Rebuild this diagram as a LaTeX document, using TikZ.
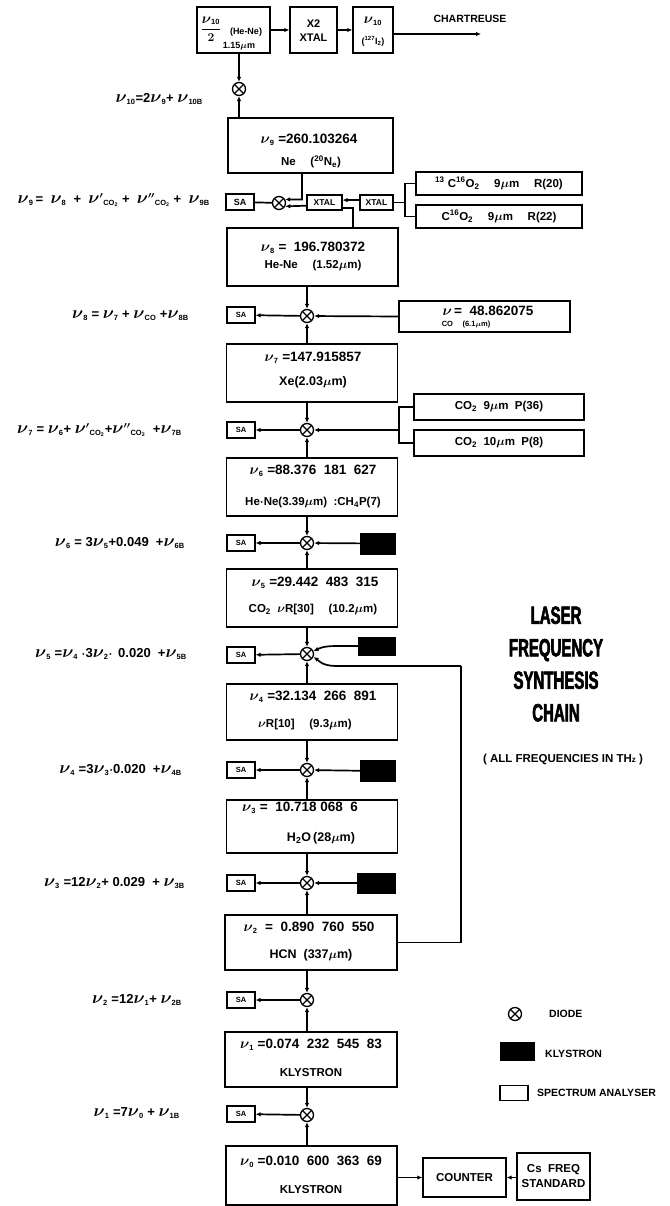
\documentclass[tikz,border=0pt]{standalone}
\usepackage{amsmath}
\usepackage{fontspec}
\setmainfont{Liberation Sans}
\newfontfamily\titlefont{Liberation Sans}[FakeStretch=0.6, BoldFeatures={FakeBold=2.2}]
\usetikzlibrary{arrows.meta}
\newcommand\nus{15}
\newcommand\bnu{\hbox{\fontsize{\nus}{\nus}\selectfont$\boldsymbol{\nu}$}}
\newcommand\nuu[1]{\ensuremath{\bnu_{\hbox{\fontsize{7.5}{7.5}\selectfont\bfseries #1}}}}
\newcommand\nup[2]{\ensuremath{\bnu#1{}_{\hbox{\fontsize{7.5}{7.5}\selectfont\bfseries #2}}}}
\tikzset{
  fs/.style={font=\bfseries\boldmath\fontsize{#1}{#1}\selectfont},
  conn/.style={line width=1.7pt},
  box/.style={draw, line width=1.4pt, inner sep=0pt},
  mbox/.style={box, minimum width=171pt},
  sabox/.style={box, line width=1.2pt, minimum width=28pt, minimum height=16pt, fs=7.5},
  xtal/.style={box, line width=1.2pt, minimum height=15pt, fs=8.5},
  klys/.style={fill=black, draw=black, inner sep=0pt},
  mixer/.style={circle, draw, line width=1.3pt, minimum size=13pt, inner sep=0pt, fill=white,
    path picture={\draw[line width=1.3pt] (path picture bounding box.south west) -- (path picture bounding box.north east)
      (path picture bounding box.north west) -- (path picture bounding box.south east);}},
  eqn/.style={font=\bfseries\boldmath\fontsize{13}{13}\selectfont\def\nus{16.5}, anchor=east, inner sep=0pt},
  tx/.style={inner sep=0pt, fs=#1},
  tn/.style={inner sep=0pt, font=\bfseries\boldmath\fontsize{13.5}{13.5}\selectfont\def\nus{15.5}},
}
\begin{document}
\begin{tikzpicture}[x=1pt,y=-1pt, >={Latex[length=5pt,width=4.5pt]}]
\useasboundingbox (0,0) rectangle (669,1206);

% ---------- top row ----------
\node[box, minimum width=73pt, minimum height=46pt] (bA) at (233.5,30) {};
\node[box, minimum width=47pt, minimum height=46pt] (bX) at (313.5,30) {};
\node[box, minimum width=40pt, minimum height=46pt] (bI) at (373,30) {};
\node[tx=13] (tA1) at (211,29) {$\displaystyle\frac{\nuu{10}}{2}$};
\node[tx=9] (tA2) at (246,32) {(He-Ne)};
\node[tx=9] (tA3) at (239,46) {1.15$\mu$m};
\node[tx=11] (tX1) at (313.5,24) {X2};
\node[tx=11] (tX2) at (313.5,38) {XTAL};
\node[tx=13] (tI1) at (373,21) {\nuu{10}};
\node[tx=9] (tI2) at (373,41) {(\textsuperscript{127}I\textsubscript{2})};
\node[tx=10.5] (chartr) at (470,19) {CHARTREUSE};
\coordinate (chart) at (481,34);
\draw[conn,->] (bA.east) -- (bX.west);
\draw[conn,->] (bX.east) -- (bI.west);
\draw[conn,->] (bI.east |- chart) -- (chart);

\node[mixer] (m10) at (239,89) {};
\node[eqn] (L10) at (203,99) {\nuu{10}=2\nuu{9}+ \nuu{10B}};
\draw[conn,->] (bA.south -| m10) -- (m10);

% ---------- nu9 ----------
\node[box, minimum width=165pt, minimum height=55pt] (b9) at (310.5,145.5) {};
\node[tn] (t9a) at (309,140) {\nuu{9} =260.103264};
\node[tx=11.5] (t9b) at (311,162) {Ne \quad (\textsuperscript{20}N\textsubscript{e})};
\draw[conn,->] (b9.north -| m10) -- (m10);

\node[mixer] (m9) at (279,203) {};
\node[sabox, fs=9] (s9) at (240,202) {SA};
\node[xtal, minimum width=35pt] (x1) at (324.5,202.5) {XTAL};
\node[xtal, minimum width=33pt] (x2) at (376.5,202.5) {XTAL};
\node[box, minimum width=166pt, minimum height=23pt, fs=11.5] (c9a) at (499,183.5) {\textsuperscript{13} C\textsuperscript{16}O\textsubscript{2} \quad 9$\mu$m \quad R(20)};
\node[box, minimum width=166pt, minimum height=23pt, fs=11.5] (c9b) at (499,216.5) {C\textsuperscript{16}O\textsubscript{2} \quad 9$\mu$m \quad R(22)};
\node[eqn] (L9) at (210,200) {\nuu{9}\,= \ \nuu{8} \ + \ \nup{'}{CO\textsubscript{2}} + \ \nup{''}{CO\textsubscript{2}} + \ \nuu{9B}};
\coordinate (j9) at (302,199.5);
\coordinate (j8) at (353,208);
\coordinate (br9) at (405,202.5);
\draw[conn] (s9) -- (m9);
\draw[conn,->] (b9.south -| j9) -- (j9) -- (m9.30);
\draw[conn,->] (x1.190) -- (m9.-28);
\draw[conn,->] (x2.172) -- (x1.east |- x2.172);
\draw[conn] (x2.east) -- (br9);
\draw[conn] (c9a.west) -| (br9) |- (c9b.west);

% ---------- nu8 ----------
\node[mbox, minimum height=58pt] (b8) at (312.5,257) {};
\node[tn] (t8a) at (313,248) {\nuu{8} = \ 196.780372};
\node[tx=11.5] (t8b) at (313,266) {He-Ne \quad (1.52$\mu$m)};
\draw[conn] (b8.north -| j8) -- (j8) -- (x1.east |- j8);

\node[mixer] (m8) at (307,316) {};
\node[sabox] (s8) at (241,315) {SA};
\node[box, minimum width=171pt, minimum height=31pt] (co8) at (484.5,316.5) {};
\node[tn] (tco8a) at (488,311) {$\boldsymbol{\nu}$\,= \ 48.862075};
\node[tx=7.5] (tco8b) at (466,325) {CO \quad (6.1$\mu$m)};
\node[eqn] (L8) at (189,316) {\nuu{8} = \nuu{7} + \nuu{CO} +\nuu{8B}};
\draw[conn,->] (b8.south -| m8) -- (m8);
\draw[conn,->] (m8) -- (s8);
\draw[conn,->] (co8.west) -- (m8);

% ---------- nu7 ----------
\node[mbox, minimum height=58pt] (b7) at (312,373) {};
\node[tn] (t7a) at (313,358) {\nuu{7} =147.915857};
\node[tx=12.5] (t7b) at (313,382) {Xe(2.03$\mu$m)};
\draw[conn,->] (b7.north -| m8) -- (m8);

\node[mixer] (m7) at (307,430) {};
\node[sabox] (s7) at (241,430) {SA};
\node[box, minimum width=170pt, minimum height=26pt, fs=11.5] (c7a) at (499,407) {CO\textsubscript{2} \ 9$\mu$m \ P(36)};
\node[box, minimum width=170pt, minimum height=26pt, fs=11.5] (c7b) at (499,443) {CO\textsubscript{2} \ 10$\mu$m \ P(8)};
\node[eqn] (L7) at (182,430) {\nuu{7} = \nuu{6}+ \nup{'}{CO\textsubscript{2}}+\nup{''}{CO\textsubscript{2}} \ +\nuu{7B}};
\coordinate (br7) at (399,430);
\draw[conn,->] (b7.south -| m7) -- (m7);
\draw[conn,->] (m7) -- (s7);
\draw[conn,->] (br7) -- (m7);
\draw[conn] (c7a.west) -| (br7) |- (c7b.west);

% ---------- nu6 ----------
\node[mbox, minimum height=58pt] (b6) at (312,487) {};
\node[tn] (t6a) at (313,471) {\nuu{6} =88.376 \ 181 \ 627};
\node[tx=11.5] (t6b) at (313,503) {He$\cdot$Ne(3.39$\mu$m) \ :CH\textsubscript{4}P(7)};
\draw[conn,->] (b6.north -| m7) -- (m7);

\node[mixer] (m6) at (307,543) {};
\node[sabox] (s6) at (241,543) {SA};
\node[klys, minimum width=35pt, minimum height=21pt] (k6) at (377.5,543.5) {};
\node[eqn] (L6) at (185,543) {\nuu{6} = 3\nuu{5}+0.049 \ +\nuu{6B}};
\draw[conn,->] (b6.south -| m6) -- (m6);
\draw[conn,->] (m6) -- (s6);
\draw[conn,->] (k6) -- (m6);

% ---------- nu5 ----------
\node[mbox, minimum height=58pt] (b5) at (312,598) {};
\node[tn] (t5a) at (315,583) {\nuu{5} =29.442 \ 483 \ 315};
\node[tx=11.5] (t5b) at (313,610) {CO\textsubscript{2} \ $\boldsymbol{\nu}$R[30] \quad (10.2$\mu$m)};
\draw[conn,->] (b5.north -| m6) -- (m6);

\node[mixer] (m5) at (307,654) {};
\node[sabox] (s5) at (241,655) {SA};
\node[klys, minimum width=37pt, minimum height=18pt] (k5) at (376.5,646) {};
\node[eqn] (L5) at (187,654) {\nuu{5} =\nuu{4} $\cdot$3\nuu{2}$\cdot$ \,0.020 \ +\nuu{5B}};
\coordinate (hcn) at (461,666);
\draw[conn,->] (b5.south -| m5) -- (m5);
\draw[conn,->] (m5) -- (s5);
\draw[conn,->] (k5.west) -- (336,646) .. controls (322,646) and (318,649) .. (m5.25);
\draw[conn,->] (hcn) -- (336,666) .. controls (322,666) and (318,660) .. (m5.-25);

% ---------- nu4 ----------
\node[mbox, minimum height=56pt] (b4) at (312,712) {};
\node[tn] (t4a) at (313,697) {\nuu{4} =32.134 \ 266 \ 891};
\node[tx=11.5] (t4b) at (305,725) {$\boldsymbol{\nu}$R[10] \quad (9.3$\mu$m)};
\draw[conn,->] (b4.north -| m5) -- (m5);

\node[mixer] (m4) at (307,770) {};
\node[sabox] (s4) at (241,770) {SA};
\node[klys, minimum width=35pt, minimum height=21pt] (k4) at (377.5,771) {};
\node[eqn] (L4) at (182,770) {\nuu{4} =3\nuu{3}$\cdot$0.020 \ +\nuu{4B}};
\draw[conn,->] (b4.south -| m4) -- (m4);
\draw[conn,->] (m4) -- (s4);
\draw[conn,->] (k4) -- (m4);

% ---------- nu3 ----------
\node[mbox, minimum height=53pt] (b3) at (312,826.5) {};
\node[tn] (t3a) at (300,808) {\nuu{3} = \ 10.718 068 \ 6};
\node[tx=12.5] (t3b) at (321,838) {H\textsubscript{2}O\,(28$\mu$m)};
\draw[conn,->] (b3.north -| m4) -- (m4);

\node[mixer] (m3) at (307,883) {};
\node[sabox] (s3) at (241,883) {SA};
\node[klys, minimum width=38pt, minimum height=20pt] (k3) at (376,883) {};
\node[eqn] (L3) at (185,883) {\nuu{3} =12\nuu{2}+ 0.029 \ + \nuu{3B}};
\draw[conn,->] (b3.south -| m3) -- (m3);
\draw[conn,->] (m3) -- (s3);
\draw[conn,->] (k3) -- (m3);

% ---------- nu2 ----------
\node[box, minimum width=172pt, minimum height=55pt] (b2) at (311,942.5) {};
\node[tn] (t2a) at (309,928) {\nuu{2} \ = \ 0.890 \ 760 \ 550};
\node[tx=12.5] (t2b) at (311,955) {HCN \ (337$\mu$m)};
\draw[conn,->] (b2.north -| m3) -- (m3);
\draw[conn] (b2.east) -| (hcn);

\node[mixer] (m2) at (307,1000) {};
\node[sabox] (s2) at (241,1000) {SA};
\node[eqn] (L2) at (182,1000) {\nuu{2} =12\nuu{1}+ \nuu{2B}};
\draw[conn,->] (b2.south -| m2) -- (m2);
\draw[conn,->] (m2) -- (s2);

% ---------- nu1 ----------
\node[box, minimum width=172pt, minimum height=55pt] (b1) at (311,1059.5) {};
\node[tn] (t1a) at (311,1045) {\nuu{1} =0.074 \ 232 \ 545 \ 83};
\node[tx=11.5] (t1b) at (311,1073) {KLYSTRON};
\draw[conn,->] (b1.north -| m2) -- (m2);

\node[mixer] (m1) at (307,1115) {};
\node[sabox] (s1) at (241,1114) {SA};
\node[eqn] (L1) at (180,1113) {\nuu{1} =7\nuu{0} + \nuu{1B}};
\draw[conn,->] (b1.south -| m1) -- (m1);
\draw[conn,->] (m1) -- (s1);

% ---------- nu0 ----------
\node[box, minimum width=171pt, minimum height=59pt] (b0) at (311.5,1175.5) {};
\node[tn] (t0a) at (311,1162) {\nuu{0} =0.010 \ 600 \ 363 \ 69};
\node[tx=11.5] (t0b) at (311,1190) {KLYSTRON};
\draw[conn,->] (b0.north -| m1) -- (m1);

\node[box, minimum width=83pt, minimum height=39pt, fs=11.5] (cnt) at (464.5,1177.5) {COUNTER};
\node[box, minimum width=73pt, minimum height=47pt, align=center, font=\bfseries\fontsize{11.5}{15}\selectfont] (cs) at (553.5,1176.5) {Cs \ FREQ\\STANDARD};
\draw[conn,->] (b0.east |- cnt) -- (cnt.west);
\draw[conn,->] (cs.west |- cnt) -- (cnt.east);

% ---------- title ----------
\node[align=center, inner sep=0pt, font=\titlefont\bfseries\fontsize{25}{32.5}\selectfont] (title) at (556,664) {LASER\\FREQUENCY\\SYNTHESIS\\CHAIN};
\node[tx=11.5] (allf) at (563,760) {( ALL FREQUENCIES IN TH{\fontsize{8}{8}\selectfont z} )};

% ---------- legend ----------
\node[mixer] (lgm) at (515,1014) {};
\node[tx=10.5, anchor=west] (lgmt) at (549,1014) {DIODE};
\node[klys, minimum width=34pt, minimum height=18pt] (lgk) at (517,1051) {};
\node[tx=10.5, anchor=west] (lgkt) at (545,1054) {KLYSTRON};
\node[box, line width=1.2pt, minimum width=28pt, minimum height=15pt] (lgs) at (514,1093) {};
\node[tx=10.5, anchor=west] (lgst) at (537,1093) {SPECTRUM ANALYSER};
\end{tikzpicture}
\end{document}
